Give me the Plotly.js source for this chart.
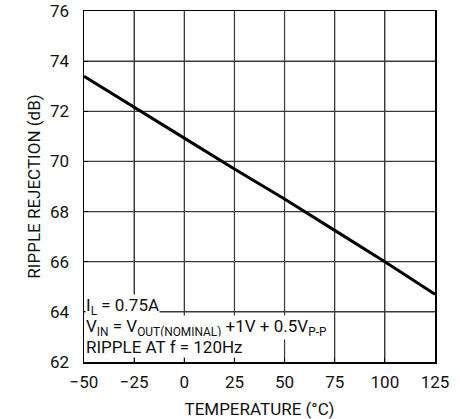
<!DOCTYPE html>
<html>
<head>
<meta charset="utf-8">
<script src="https://cdn.plot.ly/plotly-3.0.1.min.js"></script>
<style>html,body{margin:0;padding:0;background:#fff;}#chart{width:460px;height:419px;}</style>
</head>
<body>
<div id="chart"></div>
<script>
// Data
const temperature = [-50, -25, 0, 25, 50, 75, 100, 125];
const rippleRejection = [73.4, 72.15, 70.93, 69.7, 68.5, 67.25, 66.0, 64.7];
const xTicks = [-50, -25, 0, 25, 50, 75, 100, 125];
const yTicks = [62, 64, 66, 68, 70, 72, 74, 76];
const noteLines = [
  'I<sub>L</sub> = 0.75A',
  'V<sub>IN</sub> = V<sub>OUT(NOMINAL)</sub> +1V + 0.5V<sub>P-P</sub>',
  'RIPPLE AT f = 120Hz'
];

const FONT = 'Roboto, "Liberation Sans", sans-serif';
const TXT = '#111';
const GRID = '#3a3a3a';

const xMin = xTicks[0], xMax = xTicks[xTicks.length - 1];
const yMin = yTicks[0], yMax = yTicks[yTicks.length - 1];

// grid lines at the tick values, drawn through the axis scales
const gx = [], gy = [];
xTicks.slice(1, -1).forEach(v => { gx.push(v, v, null); gy.push(yMin, yMax, null); });
const hx = [], hy = [];
yTicks.slice(1, -1).forEach(v => { hx.push(xMin, xMax, null); hy.push(v, v, null); });
const gridV = {x: gx, y: gy, type: 'scatter', mode: 'lines', line: {color: GRID, width: 1.2}, hoverinfo: 'skip', connectgaps: false};
const gridH = {x: hx, y: hy, type: 'scatter', mode: 'lines', line: {color: GRID, width: 1.2}, hoverinfo: 'skip', connectgaps: false};

const trace = {
  x: temperature,
  y: rippleRejection,
  type: 'scatter',
  mode: 'lines',
  line: {color: '#000', width: 3}
};

const noteShift = [43, 22, 4];
const annotations = noteLines.map((t, i) => ({
  text: t,
  xref: 'paper', yref: 'paper',
  x: 0, y: 0,
  xanchor: 'left', yanchor: 'bottom',
  xshift: 1,
  yshift: noteShift[i],
  showarrow: false,
  align: 'left',
  bgcolor: '#fff',
  borderpad: 0,
  font: {family: FONT, size: 17, color: TXT}
}));

const layout = {
  width: 460, height: 419,
  margin: {l: 84, r: 25, t: 11, b: 57},
  paper_bgcolor: '#fff',
  plot_bgcolor: '#fff',
  showlegend: false,
  font: {family: FONT, size: 17, color: TXT},
  xaxis: {
    range: [xMin, xMax],
    tickmode: 'array',
    tickvals: xTicks,
    ticks: 'inside', ticklen: 4, tickcolor: '#000',
    showgrid: true, gridcolor: GRID, gridwidth: 1.2,
    showline: true, linecolor: '#000', linewidth: 1.5, mirror: true,
    zeroline: false,
    tickfont: {family: FONT, size: 17, color: TXT},
    ticklabelstandoff: 4,
    title: {text: 'TEMPERATURE (\u00B0C)', font: {family: FONT, size: 17, color: TXT}}
  },
  yaxis: {
    range: [yMin, yMax],
    tickmode: 'array',
    tickvals: yTicks,
    ticks: 'inside', ticklen: 4, tickcolor: '#000',
    showgrid: true, gridcolor: GRID, gridwidth: 1.2,
    showline: true, linecolor: '#000', linewidth: 1.5, mirror: true,
    zeroline: false,
    tickfont: {family: FONT, size: 17, color: TXT},
    ticklabelstandoff: 10,
    title: {text: 'RIPPLE REJECTION (dB)', font: {family: FONT, size: 17, color: TXT}}
  },
  annotations: annotations
};

Plotly.newPlot('chart', [gridV, gridH, trace], layout, {displayModeBar: false, staticPlot: true});
</script>
</body>
</html>
